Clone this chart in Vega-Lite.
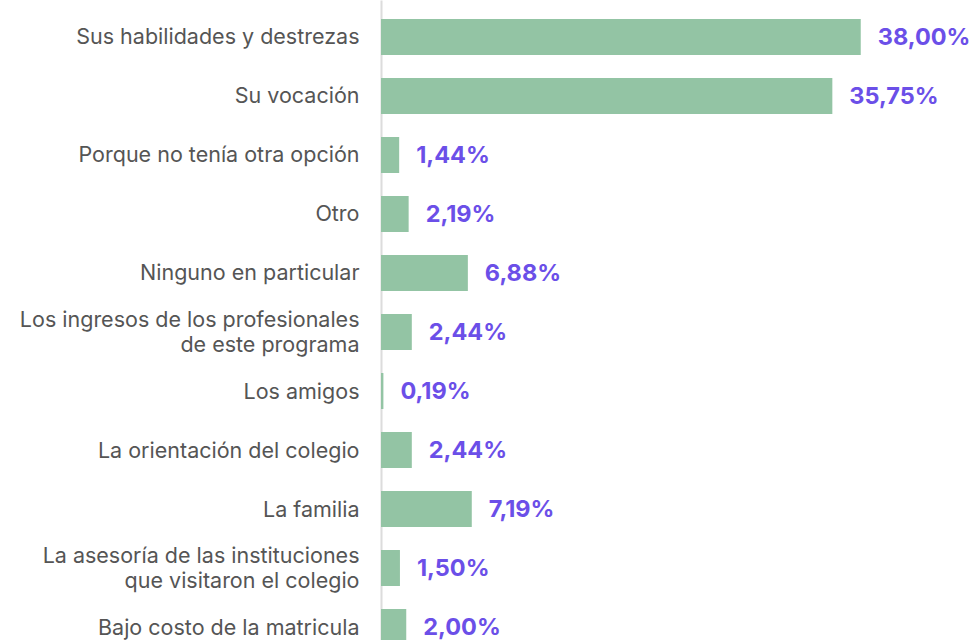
{
  "$schema": "https://vega.github.io/schema/vega-lite/v6.json",
  "autosize": "none",
  "width": 505,
  "height": 664,
  "padding": {"left": 381, "top": 0, "right": 89, "bottom": 0},
  "background": "white",
  "data": {
    "values": [
      {"motivo": "Sus habilidades y destrezas", "valor": 38.00},
      {"motivo": "Su vocación", "valor": 35.75},
      {"motivo": "Porque no tenía otra opción", "valor": 1.44},
      {"motivo": "Otro", "valor": 2.19},
      {"motivo": "Ninguno en particular", "valor": 6.88},
      {"motivo": "Los ingresos de los profesionales\nde este programa", "valor": 2.44},
      {"motivo": "Los amigos", "valor": 0.19},
      {"motivo": "La orientación del colegio", "valor": 2.44},
      {"motivo": "La familia", "valor": 7.19},
      {"motivo": "La asesoría de las instituciones\nque visitaron el colegio", "valor": 1.50},
      {"motivo": "Bajo costo de la matricula", "valor": 2.00}
    ]
  },
  "transform": [
    {"calculate": "replace(format(datum.valor, '.2f'), '.', ',') + '%'", "as": "etiqueta"}
  ],
  "encoding": {
    "y": {
      "field": "motivo",
      "type": "nominal",
      "sort": null,
      "scale": {"paddingInner": 0.39, "paddingOuter": 0.322},
      "axis": {
        "title": null,
        "ticks": false,
        "domain": true,
        "domainColor": "#dcdcdc",
        "domainWidth": 2,
        "labelExpr": "split(datum.label, '\\n')",
        "labelFont": "Inter",
        "labelFontSize": 21.5,
        "labelColor": "#555555",
        "labelPadding": 22,
        "labelLineHeight": 25,
        "labelLimit": 400,
        "labelOffset": {"condition": {"test": "indexof(datum.label, '\\n') >= 0", "value": -11}, "value": 1.5}
      }
    },
    "x": {
      "field": "valor",
      "type": "quantitative",
      "scale": {"domain": [0, 40]},
      "axis": null
    }
  },
  "layer": [
    {"mark": {"type": "bar", "color": "#93c4a4"}},
    {
      "mark": {"type": "text", "align": "left", "baseline": "middle", "dx": 17, "dy": 1, "font": "Inter", "fontSize": 23.5, "fontWeight": "bold", "color": "#6b4fe8"},
      "encoding": {"text": {"field": "etiqueta"}}
    }
  ],
  "config": {"view": {"stroke": null}}
}
